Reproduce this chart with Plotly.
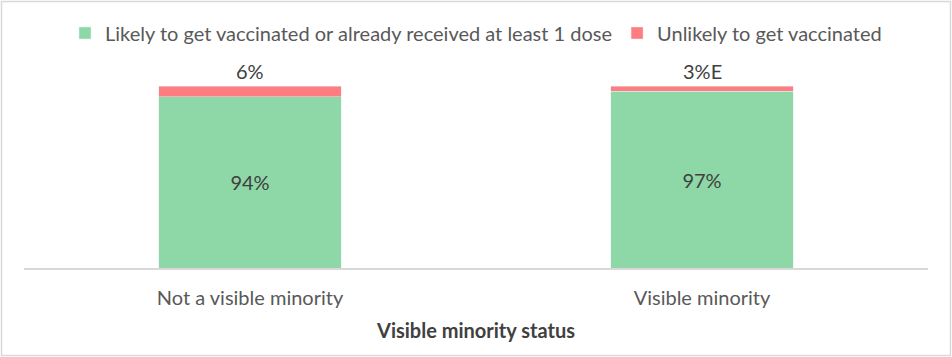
import plotly.graph_objects as go

categories = ["Not a visible minority", "Visible minority"]
likely = [94, 97]
unlikely = [6, 3]
likely_text = ["94%", "97%"]
unlikely_text = ["6%", "3%E"]
series_names = ["Likely to get vaccinated or already received at least 1 dose", "Unlikely to get vaccinated"]
axis_title = "Visible minority status"

FONT = "Lato, Calibri, Carlito, sans-serif"
TXT = "#595959"
GREEN = "#8DD8A6"
PINK = "#FF7C80"
FS = 20

W, H = 952, 357
ML, MR, MT, MB = 24, 24, 86, 89

fig = go.Figure()
fig.add_trace(go.Bar(x=categories, y=likely, name=series_names[0], marker_color=GREEN,
                     text=likely_text, textposition="inside", insidetextanchor="middle",
                     textfont=dict(color="#404040", size=FS, family=FONT), hoverinfo="skip"))
fig.add_trace(go.Bar(x=categories, y=unlikely, name=series_names[1], marker_color=PINK,
                     textposition="none", hoverinfo="skip"))

for c, a, b, t in zip(categories, likely, unlikely, unlikely_text):
    fig.add_annotation(x=c, y=a + b, text=t, showarrow=False, yanchor="bottom", yshift=1,
                       font=dict(color="#404040", size=FS, family=FONT))

pw = W - ML - MR
ph = H - MT - MB
fig.add_shape(type="rect", xref="paper", yref="paper",
              x0=(1.5 - ML) / pw, x1=(W - 1.5 - ML) / pw,
              y0=-(H - 1.5 - MT - ph) / ph, y1=1 + (MT - 1.5) / ph,
              line=dict(color="#D9D9D9", width=1.5), layer="below")

fig.update_layout(
    width=W, height=H, barmode="stack", bargap=0.597,
    margin=dict(l=ML, r=MR, t=MT, b=MB, autoexpand=False),
    paper_bgcolor="white", plot_bgcolor="white",
    font=dict(family=FONT, color=TXT, size=FS),
    showlegend=True,
    legend=dict(orientation="h", x=0.5, xanchor="center", y=1 + (MT - 33) / ph, yanchor="middle",
                font=dict(size=FS, color=TXT, family=FONT), traceorder="normal",
                itemwidth=30, tracegroupgap=0),
    xaxis=dict(showline=True, linecolor="#D9D9D9", linewidth=1.5, ticks="outside", ticklen=0,
               tickfont=dict(size=FS, color=TXT, family=FONT), ticklabelstandoff=11,
               title=dict(text="<b>" + axis_title + "</b>", standoff=16,
                          font=dict(size=FS, color="#404040", family=FONT)),
               showgrid=False, fixedrange=True, automargin=False),
    yaxis=dict(range=[0, 100], visible=False, showgrid=False, fixedrange=True, automargin=False),
)

fig.write_html("out.html", config={"displayModeBar": False},
               post_script="document.body.style.margin='0';document.body.style.overflow='hidden';")
